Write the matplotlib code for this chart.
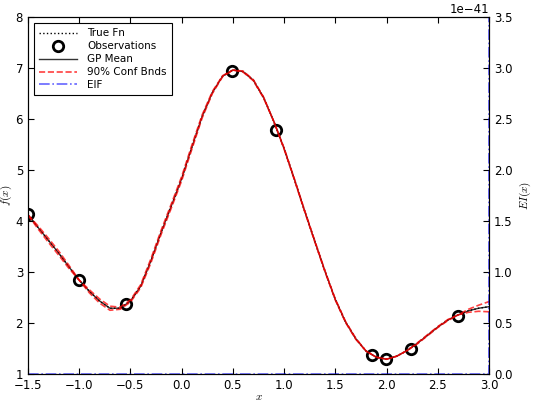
import matplotlib
matplotlib.use("Agg")
import matplotlib.pyplot as plt
import numpy as np

x_grid = [-1.5, -1.4, -1.3, -1.2, -1.1, -1.0, -0.9, -0.8, -0.7, -0.6,
          -0.5, -0.4, -0.3, -0.2, -0.1, 0.0, 0.1, 0.2, 0.3, 0.4,
          0.5, 0.6, 0.7, 0.8, 0.9, 1.0, 1.1, 1.2, 1.3, 1.4,
          1.5, 1.6, 1.7, 1.8, 1.9, 2.0, 2.1, 2.2, 2.3, 2.4,
          2.5, 2.6, 2.7, 2.8, 2.9, 3.0]
true_fn = [4.12, 3.87, 3.62, 3.37, 3.10, 2.84, 2.62, 2.43, 2.29, 2.29,
           2.43, 2.72, 3.22, 3.78, 4.30, 4.83, 5.45, 6.05, 6.52, 6.84,
           6.96, 6.93, 6.76, 6.42, 5.95, 5.42, 4.82, 4.20, 3.60, 3.01,
           2.46, 2.02, 1.69, 1.45, 1.33, 1.29, 1.35, 1.46, 1.60, 1.76,
           1.92, 2.06, 2.16, 2.24, 2.29, 2.32]
gp_mean = [4.12, 3.87, 3.62, 3.37, 3.10, 2.84, 2.62, 2.43, 2.29, 2.29,
           2.43, 2.72, 3.22, 3.78, 4.30, 4.83, 5.45, 6.05, 6.52, 6.84,
           6.96, 6.93, 6.76, 6.42, 5.95, 5.42, 4.82, 4.20, 3.60, 3.01,
           2.46, 2.02, 1.69, 1.45, 1.33, 1.29, 1.35, 1.46, 1.60, 1.76,
           1.92, 2.06, 2.16, 2.24, 2.29, 2.32]
band_half = [0.0, 0.03, 0.04, 0.04, 0.03, 0.0, 0.03, 0.04, 0.04, 0.02,
             0.02, 0.03, 0.04, 0.04, 0.04, 0.04, 0.04, 0.03, 0.02, 0.01,
             0.0, 0.01, 0.01, 0.01, 0.0, 0.01, 0.01, 0.01, 0.01, 0.01,
             0.01, 0.01, 0.01, 0.0, 0.0, 0.0, 0.0, 0.0, 0.01, 0.01,
             0.01, 0.01, 0.0, 0.03, 0.06, 0.10]
obs_x = [-1.5, -1.0, -0.54, 0.49, 0.92, 1.86, 1.99, 2.24, 2.70]
obs_y = [4.14, 2.84, 2.38, 6.95, 5.79, 1.37, 1.29, 1.49, 2.14]
eif_x = [-1.5, 2.999, 3.0]
eif_vals = [0.0, 0.0, 3.5e-41]

plt.rcParams['font.family'] = ['DejaVu Sans']
plt.rcParams['font.size'] = 8
plt.rcParams['mathtext.fontset'] = 'cm'

fig = plt.figure(figsize=(5.34, 4.01), dpi=100)
ax = fig.add_axes([0.0524, 0.0673, 0.8633, 0.8903])
ax2 = ax.twinx()

xg = np.array(x_grid)
m = np.array(gp_mean)
h = np.array(band_half)

l1, = ax.plot(x_grid, true_fn, color='black', linestyle=':', linewidth=1)
l2, = ax.plot(obs_x, obs_y, 'o', markersize=7.5, markerfacecolor='none',
              markeredgecolor='black', markeredgewidth=2)
l3, = ax.plot(x_grid, gp_mean, color='black', linestyle='-', linewidth=1,
              alpha=0.8)
l4, = ax.plot(xg, m + h, color='red', linestyle='--', linewidth=1.2, alpha=0.75)
ax.plot(xg, m - h, color='red', linestyle='--', linewidth=1.2, alpha=0.75)
l5, = ax2.plot(eif_x, eif_vals, color='blue', linestyle='-.', linewidth=1.2,
               alpha=0.6)

ax.set_xlim(-1.5, 3.0)
ax.set_ylim(1, 8)
ax2.set_ylim(0, 3.5e-41)
ax.set_xticks([-1.5, -1.0, -0.5, 0.0, 0.5, 1.0, 1.5, 2.0, 2.5, 3.0])
ax.set_yticks([1, 2, 3, 4, 5, 6, 7, 8])
ax2.set_yticks([0.0, 0.5e-41, 1.0e-41, 1.5e-41, 2.0e-41, 2.5e-41, 3.0e-41, 3.5e-41])

ax.tick_params(direction='in', top=True, length=4, labelsize=8.5)
ax2.tick_params(direction='in', length=4, labelsize=8.5)
ax2.yaxis.get_offset_text().set_fontsize(8.5)
ax.set_xlabel('$x$', fontsize=8, labelpad=0)
ax.set_ylabel('$f(x)$', fontsize=8, labelpad=1)
ax2.set_ylabel('$EI(x)$', fontsize=8, labelpad=4)

leg = ax.legend([l1, l2, l3, l4, l5],
                ['True Fn', 'Observations', 'GP Mean', '90% Conf Bnds', 'EIF'],
                loc='upper left', fontsize=7.5, numpoints=1, fancybox=False,
                framealpha=1, edgecolor='black', borderpad=0.5,
                labelspacing=0.28, handlelength=3.6, handletextpad=1.0,
                borderaxespad=0.6)
leg.get_frame().set_linewidth(0.8)

fig.savefig('out.png', dpi=100, facecolor='white')
